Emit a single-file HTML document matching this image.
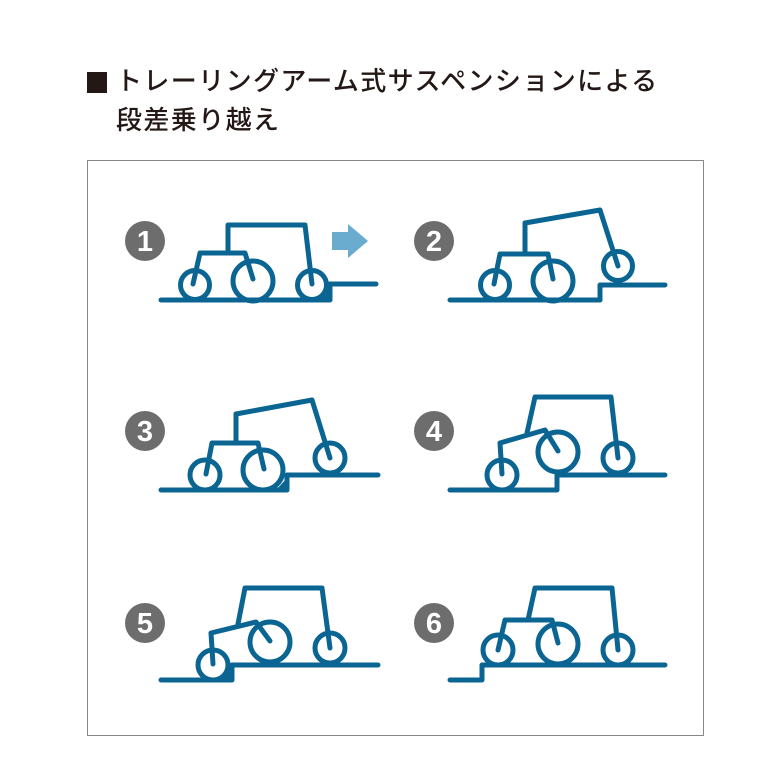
<!DOCTYPE html>
<html><head><meta charset="utf-8"><style>
body{margin:0;background:#fff;width:784px;height:784px;overflow:hidden}
.t{position:absolute;left:116px;font-family:"Liberation Sans","Noto Sans CJK JP",sans-serif;font-size:26px;font-weight:500;letter-spacing:1.4px;color:#231815;white-space:nowrap;line-height:1}
</style></head><body>
<div style="position:absolute;left:87px;top:72px;width:20px;height:21px;background:#231815"></div>
<div class="t" style="top:68px">トレーリングアーム式サスペンションによる</div>
<div class="t" style="top:107px">段差乗り越え</div>
<svg width="784" height="784" style="position:absolute;left:0;top:0">
<rect x="87.5" y="160.5" width="616" height="575" fill="none" stroke="#888" stroke-width="1"/>
<g fill="#6e6d6d">
<circle cx="145" cy="241" r="20"/><circle cx="434" cy="241" r="20"/>
<circle cx="145" cy="431" r="20"/><circle cx="434" cy="431" r="20"/>
<circle cx="145" cy="623" r="20"/><circle cx="434" cy="623" r="20"/>
</g>
<g fill="#fff" font-family="Liberation Sans,sans-serif" font-weight="bold" font-size="29" text-anchor="middle">
<text x="145" y="251">1</text><text x="434" y="251">2</text>
<text x="145" y="441">3</text><text x="434" y="441">4</text>
<text x="145" y="633">5</text><text x="434" y="633">6</text>
</g>
<polygon points="332,232 348,232 348,224 368,241 348,258 348,250 332,250" fill="#6aabd0"/>
<g fill="none" stroke="#0b6592" stroke-width="5" stroke-linecap="round" stroke-linejoin="round">
<!-- 1 -->
<polyline points="161,300 330,300 330,284 376,284"/>
<circle cx="195" cy="285" r="14.5"/><circle cx="253" cy="281" r="20"/><circle cx="312" cy="285" r="14.5"/>
<polyline points="193,284 200,253 245,253 253,279"/>
<polyline points="228,253 228,225 305,225 312,284"/>
<!-- 2 -->
<polyline points="450,300 600,300 600,285 665,285"/>
<circle cx="495" cy="285" r="14.5"/><circle cx="553" cy="281" r="20"/><circle cx="618" cy="266" r="14.5"/>
<polyline points="494,284 500,254 548,254 553,279"/>
<polyline points="525,254 525,223 600,210 618,266"/>
<!-- 3 -->
<polyline points="161,490 287,490 287,475 378,475"/>
<circle cx="205" cy="475" r="15"/><circle cx="263" cy="470" r="20"/><circle cx="330" cy="458" r="15"/>
<polyline points="206,474 212,443 258,443 264,469"/>
<polyline points="236,443 236,414 312,400 330,458"/>
<!-- 4 -->
<polyline points="450,490 557,490 557,475 665,475"/>
<circle cx="502" cy="475" r="15"/><circle cx="558" cy="452" r="20"/><circle cx="618" cy="458" r="15"/>
<polyline points="502,474 500,443 545,430 558,451"/>
<polyline points="527,433 535,397 611,397 618,458"/>
<!-- 5 -->
<polyline points="161,680 232,680 232,665 378,665"/>
<circle cx="213" cy="665" r="15"/><circle cx="270" cy="642" r="20"/><circle cx="330" cy="648" r="15"/>
<polyline points="213,664 211,633 256,622 270,641"/>
<polyline points="238,624 245,588 322,588 330,648"/>
<!-- 6 -->
<polyline points="450,680 482,680 482,665 665,665"/>
<circle cx="498" cy="650" r="15"/><circle cx="558" cy="644" r="20"/><circle cx="618" cy="650" r="15"/>
<polyline points="498,650 505,620 552,620 558,643"/>
<polyline points="528,620 535,588 612,588 618,650"/>
</g>
<g fill="#0b6592">
<polygon points="318,300 330,300 330,286"/>
<polygon points="276,490 287,490 287,478"/>
<polygon points="222,680 232,680 232,668"/>
</g>
</svg>
</body></html>
